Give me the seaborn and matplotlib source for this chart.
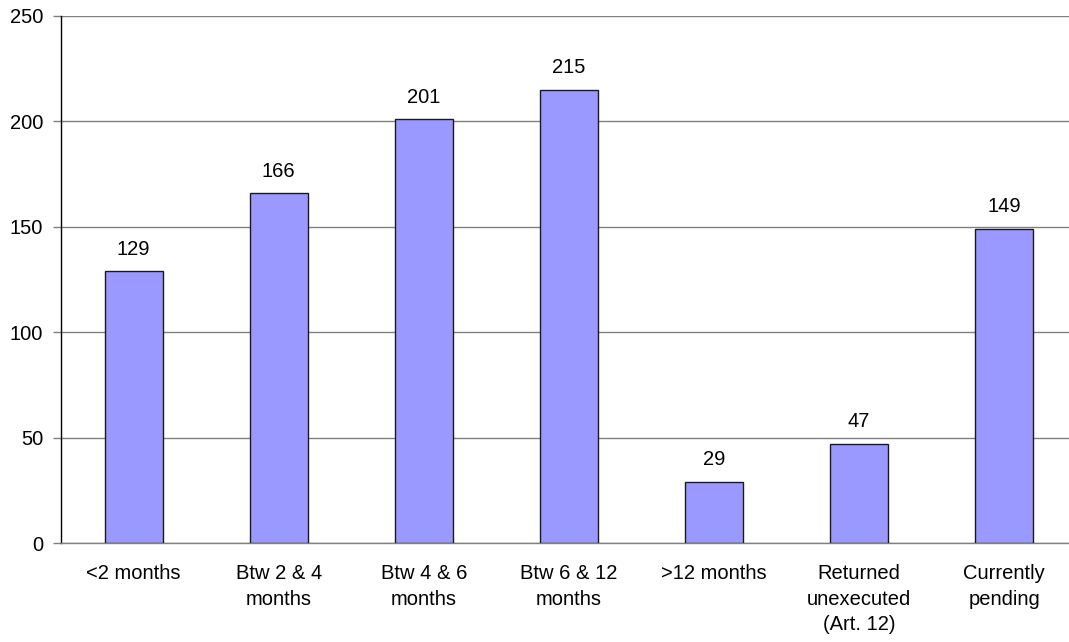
import matplotlib
matplotlib.use("Agg")
import matplotlib.pyplot as plt
import seaborn as sns
import pandas as pd
import numpy as np

categories = ["<2 months", "Btw 2 & 4\nmonths", "Btw 4 & 6\nmonths", "Btw 6 & 12\nmonths",
              ">12 months", "Returned\nunexecuted\n(Art. 12)", "Currently\npending"]
counts = [129, 166, 201, 215, 29, 47, 149]
y_ticks = [0, 50, 100, 150, 200, 250]

sns.set_theme(style="white")
plt.rcParams["font.family"] = ["Liberation Sans", "DejaVu Sans"]

df = pd.DataFrame({"category": categories, "count": counts})

fig = plt.figure(figsize=(10.69, 6.42), dpi=100)
ax = fig.add_axes([0.0572, 0.1542, 0.950, 0.821])

sns.barplot(data=df, x="category", y="count", ax=ax, color="#9999FF",
            saturation=1, width=0.4, edgecolor="#1a1a1a", linewidth=1.0, zorder=3)

fs = 14.5
ax.set_xlim(-0.5, len(categories) - 0.5)
ax.set_ylim(0, 250)
ax.set_yticks(y_ticks)
ax.set_yticklabels([str(v) for v in y_ticks], fontsize=fs, color="black")
ax.yaxis.grid(True, color="#808080", linewidth=1.0, zorder=0)
ax.set_axisbelow(True)

# Category labels centred under bars, tick marks at category boundaries
ax.set_xticks(np.arange(len(categories)))
ax.set_xticklabels(categories, fontsize=fs, color="black", linespacing=1.45)
ax.tick_params(axis="x", which="major", length=0, pad=15)
ax.set_xticks(np.arange(len(categories) + 1) - 0.5, minor=True)
ax.tick_params(axis="x", which="minor", length=6, width=1, color="#444444", direction="out")
ax.tick_params(axis="y", length=6, width=1, color="#808080", direction="out", left=True, pad=7)

ax.set_xlabel("")
ax.set_ylabel("")

for s in ["top", "right"]:
    ax.spines[s].set_visible(False)
ax.spines["left"].set_color("black")
ax.spines["left"].set_linewidth(1.0)
ax.spines["bottom"].set_color("#808080")
ax.spines["bottom"].set_linewidth(1.0)

for i, v in enumerate(counts):
    ax.annotate(str(v), xy=(i, v), xytext=(0, 9), textcoords="offset points",
                ha="center", va="bottom", fontsize=fs, color="black")

fig.savefig("out.png", dpi=100)
